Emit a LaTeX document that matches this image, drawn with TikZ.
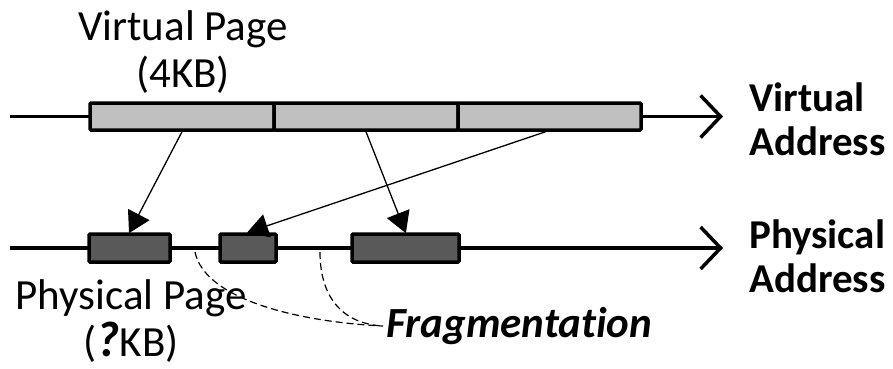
\documentclass[tikz,border=0pt]{standalone}
\usepackage{fontspec}
\setmainfont{Carlito}[Ligatures=NoCommon]
\usetikzlibrary{arrows.meta}
\definecolor{vgray}{HTML}{C0C0C0}
\definecolor{pgray}{HTML}{595959}
\tikzset{
  axis/.style={line width=3.5pt, -{Straight Barb[length=20pt,width=42pt,line width=3.5pt]}},
  vpage/.style={draw, line width=3.5pt, fill=vgray, minimum height=27pt, inner sep=0pt, rounded corners=1pt},
  ppage/.style={draw, line width=3.5pt, fill=pgray, minimum height=28pt, inner sep=0pt, rounded corners=1pt},
  map/.style={line width=1.3pt, -{Triangle[length=21pt,width=24pt]}, shorten >=-1pt},
  frag/.style={line width=1.2pt, dash pattern=on 7pt off 4pt},
  lbl/.style={inner sep=0pt, align=center, font=\fontsize{43}{47}\selectfont},
  axlbl/.style={inner sep=0pt, align=left, anchor=west, font=\fontsize{41}{44}\selectfont\bfseries}
}
\begin{document}
\begin{tikzpicture}[x=1pt,y=-1pt]
\useasboundingbox (0,0) rectangle (893,368);
% axes
\coordinate (va0) at (10,116.5);
\coordinate (va1) at (723,116.5);
\coordinate (pa0) at (10,248);
\coordinate (pa1) at (723,248);
\draw[axis] (va0) -- (va1);
\draw[axis] (pa0) -- (pa1);
% virtual pages
\node[vpage, minimum width=184pt] (vp1) at (182,116.5) {};
\node[vpage, minimum width=184pt] (vp2) at (366,116.5) {};
\node[vpage, minimum width=183pt] (vp3) at (549.5,116.5) {};
% physical pages
\node[ppage, minimum width=81pt] (pp1) at (129.5,248) {};
\node[ppage, minimum width=56pt] (pp2) at (248,248) {};
\node[ppage, minimum width=107pt] (pp3) at (405.5,248) {};
% mappings
\draw[map] (vp1.south) -- (pp1.north);
\draw[map] (vp2.south) -- (pp3.north);
\draw[map] ([xshift=-4pt]vp3.south) -- (pp2.north);
% labels
\node[lbl] (vlabel) at (183,52) {Virtual Page\\(4KB)};
\node[lbl] (plabel) at (131,321) {Physical Page\\(\textbf{\textit{\fontsize{50}{47}\selectfont ?}}KB)};
\node[axlbl] (vaddr) at (749,119) {Virtual\\Address};
\node[axlbl] (paddr) at (749,256) {Physical\\Address};
\node[inner sep=0pt, anchor=west, font=\fontsize{43}{47}\selectfont\bfseries\itshape] (fragl) at (386,326) {Fragmentation};
% fragmentation pointers
\coordinate (f1) at (195,252);
\coordinate (f2) at (320,252);
\draw[frag] (f1) .. controls (205,300) and (300,322) .. ([xshift=-3pt]fragl.west);
\draw[frag] (f2) .. controls (320,300) and (345,324) .. ([xshift=-3pt]fragl.west);
\end{tikzpicture}
\end{document}
